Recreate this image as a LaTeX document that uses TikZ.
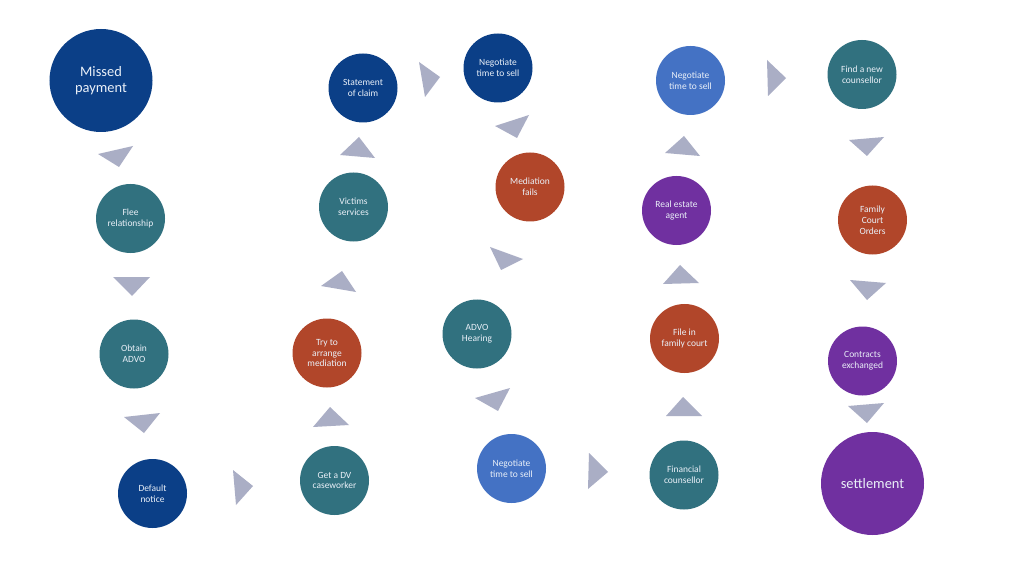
\documentclass[tikz,border=0pt]{standalone}
\usepackage{fontspec}
\setmainfont{Carlito}
\definecolor{dblue}{HTML}{0B3F87}
\definecolor{mblue}{HTML}{4472C4}
\definecolor{teal}{HTML}{31717F}
\definecolor{rust}{HTML}{B1462A}
\definecolor{purp}{HTML}{7030A0}
\definecolor{tri}{HTML}{AAAEC5}
\definecolor{txt}{HTML}{EAF0F8}
\begin{document}
\begin{tikzpicture}[x=1bp,y=-1bp,
  stage/.style={circle, draw=none, text=txt, align=center, inner sep=0pt,
    minimum size=69bp, font=\fontsize{9.5}{10.8}\selectfont},
  bigstage/.style={stage, minimum size=103bp, font=\fontsize{14.5}{16.5}\selectfont},
  arrowtri/.style={fill=tri}]
\useasboundingbox (0,0) rectangle (1024,576);
\fill[white] (0,0) rectangle (1024,576);

\node[bigstage, fill=dblue] (missed) at (101,80.5) {Missed\\payment};
\node[stage, fill=dblue] (claim) at (363,88) {Statement\\of claim};
\node[stage, fill=dblue] (neg1) at (498,68) {Negotiate\\time to sell};
\node[stage, fill=mblue] (neg2) at (690.5,80.5) {Negotiate\\time to sell};
\node[stage, fill=teal] (findc) at (862,74.5) {Find a new\\counsellor};
\node[stage, fill=teal] (flee) at (130.5,218.5) {Flee\\relationship};
\node[stage, fill=teal] (victims) at (353.5,207) {Victims\\services};
\node[stage, fill=rust] (medfail) at (530,187) {Mediation\\fails};
\node[stage, fill=purp] (realest) at (676.5,210.5) {Real estate\\agent};
\node[stage, fill=rust] (famorders) at (872.5,220) {Family\\Court\\Orders};
\node[stage, fill=teal] (advo) at (134,354) {Obtain\\ADVO};
\node[stage, fill=rust] (trymed) at (327,353) {Try to\\arrange\\mediation};
\node[stage, fill=teal] (hearing) at (477,334) {ADVO\\Hearing};
\node[stage, fill=rust] (filefc) at (684.5,338.5) {File in\\family court};
\node[stage, fill=purp] (contracts) at (862.5,361) {Contracts\\exchanged};
\node[stage, fill=dblue] (default) at (152.5,493.5) {Default\\notice};
\node[stage, fill=teal] (dvcase) at (334.5,480.5) {Get a DV\\caseworker};
\node[stage, fill=mblue] (neg3) at (511.5,468.5) {Negotiate\\time to sell};
\node[stage, fill=teal] (fincoun) at (684,475) {Financial\\counsellor};
\node[bigstage, fill=purp] (settle) at (872.5,483.5) {settlement};

\fill[arrowtri] (98,154) -- (133,146) -- (119,167) -- cycle;
\fill[arrowtri] (113,277) -- (150,277) -- (132,296) -- cycle;
\fill[arrowtri] (124,417) -- (160,413) -- (144,433) -- cycle;
\fill[arrowtri] (233,470) -- (253,486) -- (236,505) -- cycle;
\fill[arrowtri] (313,427) -- (330,407) -- (349,425) -- cycle;
\fill[arrowtri] (321,286) -- (342,271) -- (356,292) -- cycle;
\fill[arrowtri] (340,155) -- (359,137) -- (375,158) -- cycle;
\fill[arrowtri] (419,62) -- (440,77) -- (425,97) -- cycle;
\fill[arrowtri] (495,126) -- (529,115) -- (517,138) -- cycle;
\fill[arrowtri] (490,247) -- (523,259) -- (501,270) -- cycle;
\fill[arrowtri] (475,398) -- (510,388) -- (498,411) -- cycle;
\fill[arrowtri] (589,453) -- (608,472) -- (588,489) -- cycle;
\fill[arrowtri] (666,416) -- (683,397) -- (702,416) -- cycle;
\fill[arrowtri] (663,284) -- (680,265) -- (699,283) -- cycle;
\fill[arrowtri] (665,153) -- (684,136) -- (700,156) -- cycle;
\fill[arrowtri] (767,60) -- (786,78) -- (768,96) -- cycle;
\fill[arrowtri] (849,140) -- (884,137) -- (867,156) -- cycle;
\fill[arrowtri] (850,280) -- (886,283) -- (867,300) -- cycle;
\fill[arrowtri] (848,406) -- (884,403) -- (867,423) -- cycle;
\end{tikzpicture}
\end{document}
